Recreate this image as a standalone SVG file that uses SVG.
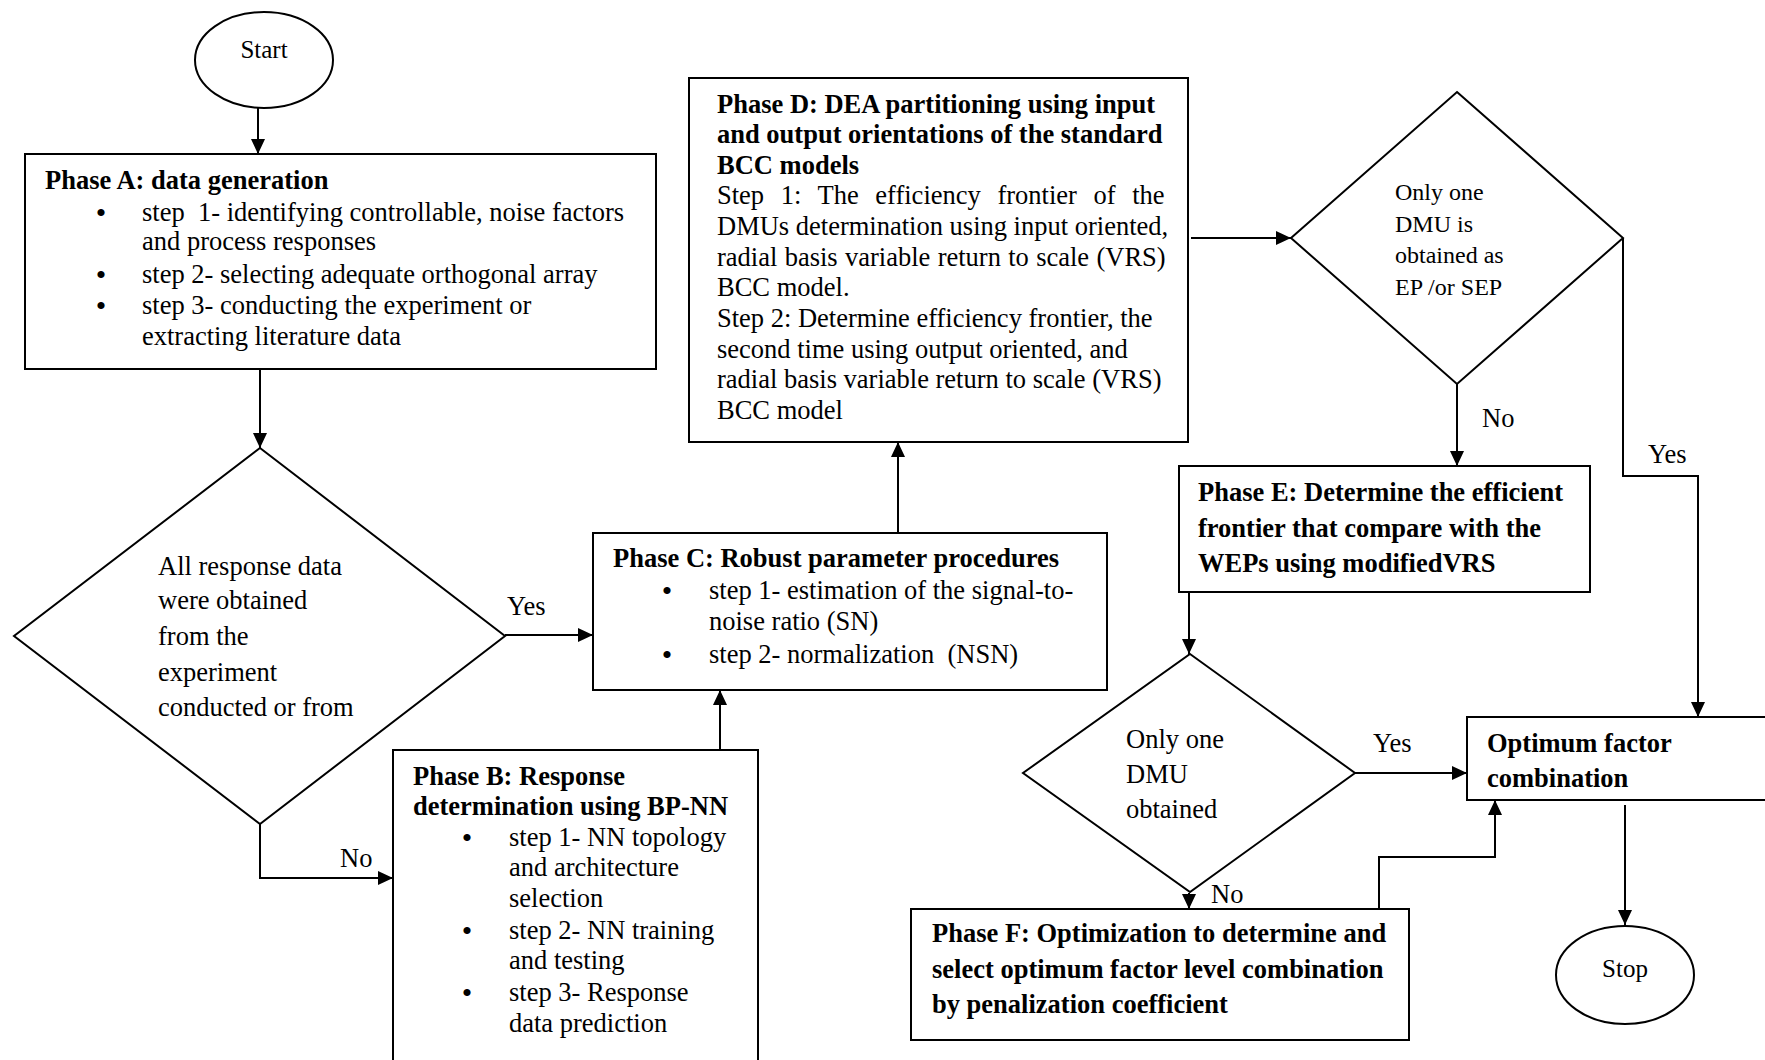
<svg xmlns="http://www.w3.org/2000/svg" width="1765" height="1060" viewBox="0 0 1765 1060">
<defs>
<marker id="arr" markerUnits="userSpaceOnUse" markerWidth="15" markerHeight="14" refX="15" refY="7" orient="auto">
<path d="M0,0 L15,7 L0,14 z" fill="#000"/>
</marker>
<style>
text{font-family:"Liberation Serif","Times New Roman",serif;font-size:26.5px;fill:#000}
.b{font-weight:bold}
.s{font-size:24px}
.t{font-size:25px}
.u{font-size:30px;text-anchor:middle}
.box{fill:#fff;stroke:#000;stroke-width:2}
.ln{fill:none;stroke:#000;stroke-width:2}
.ar{fill:none;stroke:#000;stroke-width:2;marker-end:url(#arr)}
</style>
</defs>
<rect width="1765" height="1060" fill="#fff"/>

<g id="connectors">
<path class="ar" d="M258,108 V154"/>
<path class="ar" d="M260,369 V448"/>
<path class="ar" d="M505,635 H593"/>
<path class="ar" d="M260,824 V878 H393"/>
<path class="ar" d="M720,750 V690"/>
<path class="ar" d="M898,534 V442"/>
<path class="ar" d="M1191,238 H1291"/>
<path class="ar" d="M1457,384 V466"/>
<path class="ar" d="M1623,238 V476 H1698 V717"/>
<path class="ar" d="M1189,592 V654"/>
<path class="ar" d="M1355,773 H1467"/>
<path class="ar" d="M1189,893 V909"/>
<path class="ar" d="M1379,914 V857 H1495 V800"/>
<path class="ar" d="M1625,805 V925"/>
<text x="507" y="615">Yes</text>
<text x="340" y="867">No</text>
<text x="1482" y="427">No</text>
<text x="1648" y="463">Yes</text>
<text x="1373" y="752">Yes</text>
<text x="1211" y="903">No</text>
</g>

<g id="start">
<ellipse cx="264" cy="60" rx="69" ry="48" class="box"/>
<text class="t" x="264" y="58" text-anchor="middle">Start</text>
</g>

<g id="phaseA">
<rect x="25" y="154" width="631" height="215" class="box"/>
<text class="b" x="45" y="189">Phase A: data generation</text>
<text class="u" x="101" y="223">•</text>
<text x="142" y="221" xml:space="preserve">step  1- identifying controllable, noise factors</text>
<text x="142" y="250">and process responses</text>
<text class="u" x="101" y="285">•</text>
<text x="142" y="283">step 2- selecting adequate orthogonal array</text>
<text class="u" x="101" y="316">•</text>
<text x="142" y="314">step 3- conducting the experiment or</text>
<text x="142" y="345">extracting literature data</text>
</g>

<g id="decision1">
<polygon points="260,448 505,636 260,824 14,636" class="box"/>
<text x="158" y="575">All response data</text>
<text x="158" y="609">were obtained</text>
<text x="158" y="645">from the</text>
<text x="158" y="681">experiment</text>
<text x="158" y="716">conducted or from</text>
</g>

<g id="phaseB">
<rect x="393" y="750" width="365" height="330" class="box"/>
<text class="b" x="413" y="785">Phase B: Response</text>
<text class="b" x="413" y="815">determination using BP-NN</text>
<text class="u" x="467" y="848">•</text>
<text x="509" y="846">step 1- NN topology</text>
<text x="509" y="876">and architecture</text>
<text x="509" y="907">selection</text>
<text class="u" x="467" y="941">•</text>
<text x="509" y="939">step 2- NN training</text>
<text x="509" y="969">and testing</text>
<text class="u" x="467" y="1003">•</text>
<text x="509" y="1001">step 3- Response</text>
<text x="509" y="1032">data prediction</text>
</g>

<g id="phaseC">
<rect x="593" y="533" width="514" height="157" class="box"/>
<text class="b" x="613" y="567">Phase C: Robust parameter procedures</text>
<text class="u" x="667" y="601">•</text>
<text x="709" y="599">step 1- estimation of the signal-to-</text>
<text x="709" y="630">noise ratio (SN)</text>
<text class="u" x="667" y="665">•</text>
<text x="709" y="663" xml:space="preserve">step 2- normalization  (NSN)</text>
</g>

<g id="phaseD">
<rect x="689" y="78" width="499" height="364" class="box"/>
<text class="b" x="717" y="112.5">Phase D: DEA partitioning using input</text>
<text class="b" x="717" y="143">and output orientations of the standard</text>
<text class="b" x="717" y="173.5">BCC models</text>
<text x="717" y="204" word-spacing="10">Step 1: The efficiency frontier of the</text>
<text x="717" y="235">DMUs determination using input oriented,</text>
<text x="717" y="265.5" word-spacing="0.7">radial basis variable return to scale (VRS)</text>
<text x="717" y="296">BCC model.</text>
<text x="717" y="327">Step 2: Determine efficiency frontier, the</text>
<text x="717" y="357.5">second time using output oriented, and</text>
<text x="717" y="388">radial basis variable return to scale (VRS)</text>
<text x="717" y="419">BCC model</text>
</g>

<g id="decision2">
<polygon points="1457,92 1623,238 1457,384 1291,238" class="box"/>
<text class="s" x="1395" y="200">Only one</text>
<text class="s" x="1395" y="232">DMU is</text>
<text class="s" x="1395" y="263">obtained as</text>
<text class="s" x="1395" y="295">EP /or SEP</text>
</g>

<g id="phaseE">
<rect x="1179" y="466" width="411" height="126" class="box"/>
<text class="b" x="1198" y="501">Phase E: Determine the efficient</text>
<text class="b" x="1198" y="537">frontier that compare with the</text>
<text class="b" x="1198" y="572">WEPs using modifiedVRS</text>
</g>

<g id="decision3">
<polygon points="1190,654 1355,773 1190,892 1023,773" class="box"/>
<text x="1126" y="748">Only one</text>
<text x="1126" y="783">DMU</text>
<text x="1126" y="818">obtained</text>
</g>

<g id="optimum">
<rect x="1467" y="717" width="320" height="83" class="box"/>
<text class="b" x="1487" y="752">Optimum factor</text>
<text class="b" x="1487" y="787">combination</text>
</g>

<g id="phaseF">
<rect x="911" y="909" width="498" height="131" class="box"/>
<text class="b" x="932" y="942">Phase F: Optimization to determine and</text>
<text class="b" x="932" y="977.5">select optimum factor level combination</text>
<text class="b" x="932" y="1013">by penalization coefficient</text>
</g>

<g id="stop">
<ellipse cx="1625" cy="975" rx="69" ry="49" class="box"/>
<text class="t" x="1625" y="977" text-anchor="middle">Stop</text>
</g>
</svg>
